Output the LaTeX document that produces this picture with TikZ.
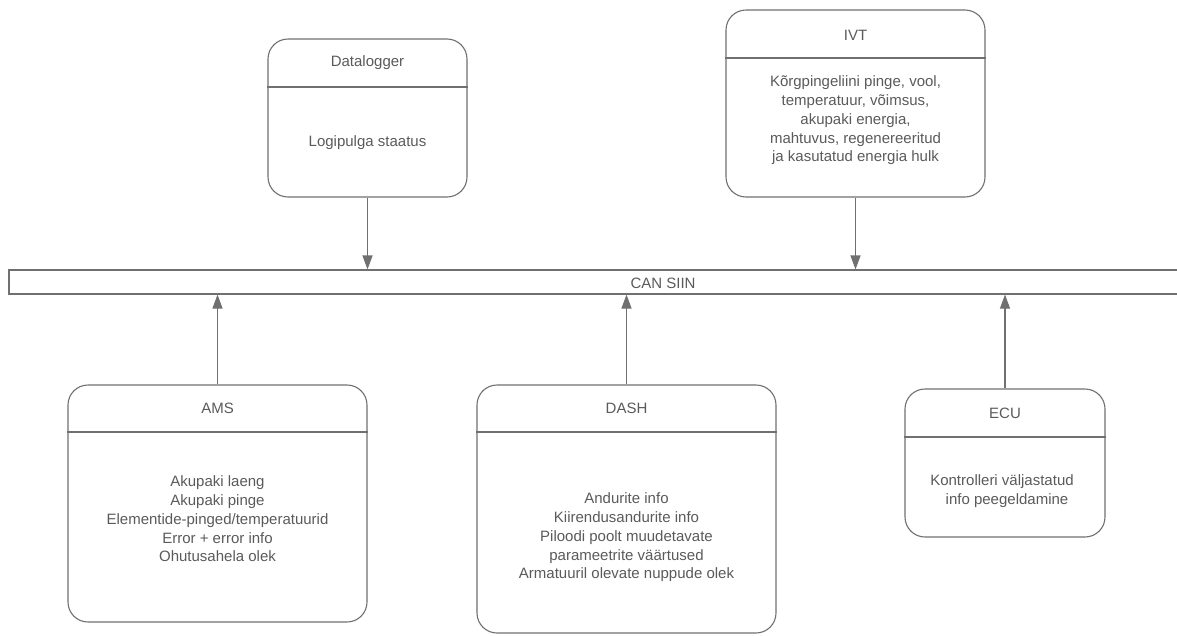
\documentclass[tikz,border=0pt]{standalone}
\usepackage{fontspec}
\setmainfont{Liberation Sans}
\usetikzlibrary{arrows.meta,positioning}
\definecolor{linegray}{RGB}{112,112,112}
\definecolor{textgray}{RGB}{90,90,90}

\begin{document}
\begin{tikzpicture}[x=1pt,y=-1pt,>={Triangle[length=14pt,width=10pt]},
  font=\fontsize{15}{18.8}\selectfont,text=textgray,
  unit/.style={draw=linegray,line width=1.1pt,rounded corners=20pt,inner sep=0pt},
  bus/.style={draw=linegray,line width=1.1pt,inner sep=0pt},
  sep/.style={draw=linegray,line width=1.1pt},
  link/.style={draw=linegray,line width=1.1pt,->}]
\clip (0,0) rectangle (1177,635);
\useasboundingbox (0,0) rectangle (1177,635);
% bus
\node[bus,minimum width=1308pt,minimum height=24pt] (can) at (663,282) {};
\node (cantxt) at (663,283) {CAN SIIN};
% top units
\node[unit,minimum width=199pt,minimum height=158pt] (dl) at (367.5,118) {};
\node[unit,minimum width=259pt,minimum height=187pt] (ivt) at (855.5,103.5) {};
% bottom units
\node[unit,minimum width=299pt,minimum height=237pt] (ams) at (217.5,503.5) {};
\node[unit,minimum width=299pt,minimum height=248pt] (dash) at (626.5,509) {};
\node[unit,minimum width=200pt,minimum height=148pt] (ecu) at (1005,463) {};
% header lines
\draw[sep] (dl.west |- 0,87) -- (dl.east |- 0,87);
\draw[sep] (ivt.west |- 0,58) -- (ivt.east |- 0,58);
\draw[sep] (ams.west |- 0,432) -- (ams.east |- 0,432);
\draw[sep] (dash.west |- 0,432) -- (dash.east |- 0,432);
\draw[sep] (ecu.west |- 0,437) -- (ecu.east |- 0,437);
% titles
\node (dltitle) at (367.5,63) {Datalogger};
\node (ivttitle) at (855.5,35) {IVT};
\node (amstitle) at (217.5,408) {AMS};
\node (dashtitle) at (626.5,408) {DASH};
\node (ecutitle) at (1005,413) {ECU};
% contents
\node (dlinfo) at (367.5,143) {Logipulga staatus};
\node[align=center] (ivtinfo) at (855.5,120.5) {Kõrgpingeliini pinge, vool,\\temperatuur, võimsus,\\akupaki energia,\\mahtuvus, regenereeritud\\ja kasutatud energia hulk};
\node[align=center] (amsinfo) at (217.5,519) {Akupaki laeng\\Akupaki pinge\\Elementide-pinged/temperatuurid\\Error + error info\\Ohutusahela olek};
\node[align=center] (dashinfo) at (626.5,537.5) {Andurite info\\Kiirendusandurite info\\Piloodi poolt muudetavate\\parameetrite väärtused\\Armatuuril olevate nuppude olek};
\node[align=center] (ecuinfo) at (1002,491.5) {Kontrolleri väljastatud\\\hspace*{10pt}info peegeldamine};
% connections to bus
\foreach \n in {dl,ivt}{\draw[link] (\n.south) -- (\n.south |- can.north);}
\foreach \n in {ams,dash,ecu}{\draw[link] (\n.north) -- (\n.north |- can.south);}
\end{tikzpicture}
\end{document}
